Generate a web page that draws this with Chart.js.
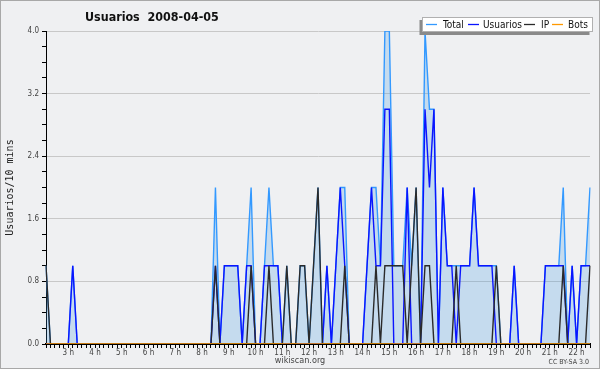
<!DOCTYPE html>
<html><head><meta charset="utf-8">
<script src="https://cdn.jsdelivr.net/npm/chart.js@4.4.1/dist/chart.umd.min.js"></script>
<style>html,body{margin:0;padding:0;background:#fff}#wrap{width:600px;height:370px;position:relative}</style>
</head><body><div id="wrap"><canvas id="c" width="600" height="370"></canvas></div>
<script>
const chartTitle = 'Usuarios  2008-04-05';
const yAxisTitle = 'Usuarios/10 mins';
const footerLeft = 'wikiscan.org';
const footerRight = 'CC BY-SA 3.0';
const seriesNames = ['Total', 'Usuarios', 'IP', 'Bots'];
const yMajorTicks = [0.0, 0.8, 1.6, 2.4, 3.2, 4.0];

// categories: 10-minute slots from 2:10 to 22:30
const timeLabels = [];
for (let i = 0; i < 123; i++) {
  const m = 130 + i * 10;
  timeLabels.push(Math.floor(m / 60) + ':' + String(m % 60).padStart(2, '0'));
}

const total = [
  1,0,0,0,0,0,1,0,0,0,
  0,0,0,0,0,0,0,0,0,0,
  0,0,0,0,0,0,0,0,0,0,
  0,0,0,0,0,0,0,0,2,0,
  1,1,1,1,0,1,2,0,0,1,
  2,1,1,0,1,0,0,1,1,0,
  1,2,0,1,0,1,2,2,0,0,
  0,0,1,2,2,1,4,4,1,1,
  1,2,1,2,0,4,3,3,0,2,
  1,1,1,1,1,1,2,1,1,1,
  1,1,0,0,0,1,0,0,0,0,
  0,0,1,1,1,1,2,0,1,0,
  1,1,2
];
const usuarios = [
  0,0,0,0,0,0,1,0,0,0,
  0,0,0,0,0,0,0,0,0,0,
  0,0,0,0,0,0,0,0,0,0,
  0,0,0,0,0,0,0,0,1,0,
  1,1,1,1,0,1,1,0,0,1,
  1,1,1,0,0,0,0,0,0,0,
  0,0,0,1,0,1,2,1,0,0,
  0,0,1,2,1,1,3,3,0,0,
  0,2,0,0,0,3,2,3,0,2,
  1,1,0,1,1,1,2,1,1,1,
  1,0,0,0,0,1,0,0,0,0,
  0,0,1,1,1,1,1,0,1,0,
  1,1,1
];
const ip = [
  1,0,0,0,0,0,0,0,0,0,
  0,0,0,0,0,0,0,0,0,0,
  0,0,0,0,0,0,0,0,0,0,
  0,0,0,0,0,0,0,0,1,0,
  0,0,0,0,0,0,1,0,0,0,
  1,0,0,0,1,0,0,1,1,0,
  1,2,0,0,0,0,0,1,0,0,
  0,0,0,0,1,0,1,1,1,1,
  1,0,1,2,0,1,1,0,0,0,
  0,0,1,0,0,0,0,0,0,0,
  0,1,0,0,0,0,0,0,0,0,
  0,0,0,0,0,0,1,0,0,0,
  0,0,1
];
const bots = [
  0,0,0,0,0,0,0,0,0,0,
  0,0,0,0,0,0,0,0,0,0,
  0,0,0,0,0,0,0,0,0,0,
  0,0,0,0,0,0,0,0,0,0,
  0,0,0,0,0,0,0,0,0,0,
  0,0,0,0,0,0,0,0,0,0,
  0,0,0,0,0,0,0,0,0,0,
  0,0,0,0,0,0,0,0,0,0,
  0,0,0,0,0,0,0,0,0,0,
  0,0,0,0,0,0,0,0,0,0,
  0,0,0,0,0,0,0,0,0,0,
  0,0,0,0,0,0,0,0,0,0,
  0,0,0
];

const F = '"DejaVu Sans Condensed", "DejaVu Sans", sans-serif';
const isMajor = v => yMajorTicks.some(t => Math.abs(t - v) < 1e-6);

const deco = {
  id: 'deco',
  beforeDraw(chart) {
    const ctx = chart.ctx;
    ctx.save();
    ctx.fillStyle = '#ffffff'; ctx.fillRect(0, 0, 600, 370);
    ctx.fillStyle = '#eff0f2'; ctx.fillRect(0, 0, 600, 369);
    ctx.strokeStyle = '#a8a8a8'; ctx.lineWidth = 1; ctx.strokeRect(0.5, 0.5, 599, 368);
    ctx.restore();
  },
  afterDraw(chart) {
    const ctx = chart.ctx;
    ctx.save();
    // title
    ctx.fillStyle = '#111';
    ctx.font = 'bold 12.4px ' + F;
    ctx.textBaseline = 'alphabetic';
    ctx.textAlign = 'left';
    ctx.fillText(chartTitle, 85, 21);
    // legend
    ctx.fillStyle = '#8a8a8a';
    ctx.fillRect(419.5, 20, 170, 15);
    ctx.fillStyle = '#ffffff';
    ctx.fillRect(422, 17, 171, 15);
    ctx.strokeStyle = '#b0b0b0'; ctx.lineWidth = 1;
    ctx.strokeRect(422.5, 17.5, 170, 14);
    const lineX = [426, 468, 524, 552];
    const textX = [443, 483, 541, 568];
    ctx.font = '10px ' + F;
    ctx.textBaseline = 'middle';
    chart.data.datasets.forEach((ds, i) => {
      ctx.strokeStyle = ds.borderColor; ctx.lineWidth = 1.3;
      ctx.beginPath(); ctx.moveTo(lineX[i], 24.5); ctx.lineTo(lineX[i] + 11, 24.5); ctx.stroke();
      ctx.fillStyle = '#111';
      ctx.fillText(ds.label, textX[i], 25);
    });
    // footer
    ctx.fillStyle = '#444';
    ctx.font = '9px ' + F;
    ctx.textBaseline = 'alphabetic';
    ctx.textAlign = 'center';
    ctx.fillText(footerLeft, 300, 363);
    ctx.font = '7px ' + F;
    ctx.textAlign = 'right';
    ctx.fillText(footerRight, 589, 364);
    ctx.restore();
  }
};

new Chart(document.getElementById('c'), {
  type: 'line',
  data: {
    labels: timeLabels,
    datasets: [
      { label: seriesNames[0], data: total, borderColor: '#3399ff', backgroundColor: 'rgba(51,145,225,0.22)', fill: 'origin', borderWidth: 1.4, order: 4 },
      { label: seriesNames[1], data: usuarios, borderColor: '#0a14ff', backgroundColor: 'transparent', fill: false, borderWidth: 1.4, order: 3 },
      { label: seriesNames[2], data: ip, borderColor: '#2a2a2a', backgroundColor: 'transparent', fill: false, borderWidth: 1.4, order: 2 },
      { label: seriesNames[3], data: bots, borderColor: '#ff9900', backgroundColor: 'transparent', fill: false, borderWidth: 1.3, order: 1 }
    ]
  },
  options: {
    responsive: false,
    animation: false,
    layout: { padding: { left: 0, right: 10, top: 31, bottom: 0 } },
    plugins: { legend: { display: false }, title: { display: false }, tooltip: { enabled: false } },
    elements: { point: { radius: 0 }, line: { tension: 0 } },
    scales: {
      x: {
        type: 'category', offset: false, z: 1,
        grid: { display: true, drawOnChartArea: false, drawTicks: true, tickLength: 4, tickColor: '#000', tickWidth: 1 },
        border: { display: true, color: '#000', width: 2 },
        ticks: {
          autoSkip: false, maxRotation: 0, minRotation: 0, padding: 0, color: '#444',
          font: { family: F, size: 8 },
          callback: (v, i) => { const l = timeLabels[i]; return l.endsWith(':00') ? parseInt(l, 10) + ' h' : ''; }
        },
        afterFit(s) { s.height = 26; }
      },
      y: {
        min: 0, max: 4,
        grid: {
          color: c => (c.tick && isMajor(c.tick.value)) ? '#c8c8c8' : 'rgba(0,0,0,0)',
          drawTicks: true, tickLength: 4, tickColor: '#000', lineWidth: 1
        },
        border: { display: true, color: '#000', width: 1 },
        ticks: {
          stepSize: 0.2, autoSkip: false, padding: 3, color: '#444',
          font: { family: F, size: 8 },
          callback: v => isMajor(v) ? v.toFixed(1) : ''
        },
        title: { display: true, text: yAxisTitle, color: '#222', font: { family: '"DejaVu Sans Mono", monospace', size: 10 }, padding: { top: 4, bottom: 0 } },
        afterFit(s) { s.width = 46; }
      }
    }
  },
  plugins: [deco]
});
</script>
</body></html>
